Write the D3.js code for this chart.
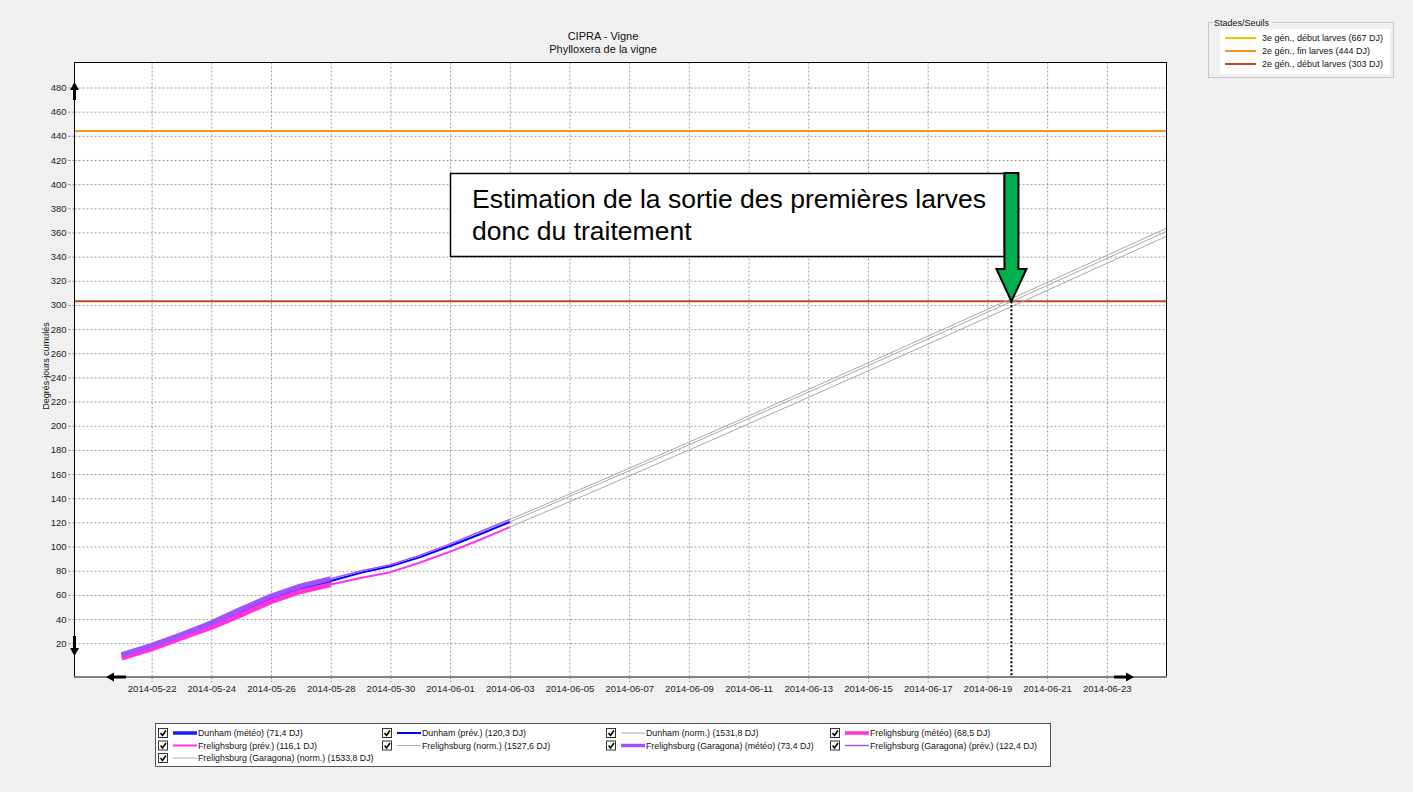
<!DOCTYPE html>
<html>
<head>
<meta charset="utf-8">
<script src="https://cdn.jsdelivr.net/npm/d3@7"></script>
<style>
  body { margin: 0; background: #f0f0f0; }
  svg { display: block; font-family: Arial, 'Liberation Sans', sans-serif; }
  .grid line { stroke: #9a9a9a; stroke-dasharray: 2,2; }
  .grid path { display: none; }
  .axis path { display: none; }
  .axis line { stroke: #808080; stroke-dasharray: 2,2; }
  .axis text { fill: #222; font-size: 9.5px; }
</style>
</head>
<body>
<svg id="chart" width="1413" height="792"></svg>
<script>
'use strict';

// ========== data

const meteoDates = ['2014-05-21', '2014-05-22', '2014-05-23', '2014-05-24', '2014-05-25', '2014-05-26', '2014-05-27', '2014-05-28'];
const dunhamMeteo = [9.8, 17.4, 26.2, 35.6, 46.8, 57.6, 65.6, 71.4];
const frelighMeteo = [7.6, 15.2, 24.4, 33.0, 43.4, 54.4, 62.8, 68.5];
const garagonaMeteo = [10.6, 18.2, 27.2, 36.8, 48.2, 59.0, 67.4, 73.4];

const prevDates = ['2014-05-28', '2014-05-29', '2014-05-30', '2014-05-31', '2014-06-01', '2014-06-02', '2014-06-03'];
const dunhamPrev = [71.4, 78.2, 83.6, 91.2, 100.4, 110.2, 120.3];
const frelighPrev = [68.5, 74.0, 78.8, 86.8, 95.8, 105.6, 116.1];
const garagonaPrev = [73.4, 79.8, 85.0, 92.8, 102.2, 112.2, 122.4];

const normDates = ['2014-06-03', '2014-06-04', '2014-06-05', '2014-06-06', '2014-06-07', '2014-06-08', '2014-06-09', '2014-06-10',
  '2014-06-11', '2014-06-12', '2014-06-13', '2014-06-14', '2014-06-15', '2014-06-16', '2014-06-17', '2014-06-18',
  '2014-06-19', '2014-06-20', '2014-06-21', '2014-06-22', '2014-06-23', '2014-06-24', '2014-06-25', '2014-06-26'];
const dunhamNorm = [120.3, 130.8, 141.4, 152.0, 162.7, 173.4, 184.2, 195.0, 205.9, 216.8, 227.7, 238.7,
  249.7, 260.7, 271.7, 282.8, 293.9, 305.0, 316.1, 327.3, 338.5, 349.7, 360.9, 372.2];
const frelighNorm = [116.1, 126.6, 137.1, 147.7, 158.4, 169.1, 179.9, 190.7, 201.6, 212.5, 223.4, 234.4,
  245.4, 256.4, 267.5, 278.6, 289.7, 300.8, 312.0, 323.2, 334.4, 345.6, 356.9, 368.2];
const garagonaNorm = [122.4, 132.9, 143.5, 154.1, 164.8, 175.6, 186.4, 197.2, 208.1, 219.0, 230.0, 241.0,
  252.0, 263.0, 274.1, 285.2, 296.3, 307.4, 318.6, 329.8, 341.0, 352.2, 363.5, 374.8];

const legendLabels = [
  'Dunham (météo) (71,4 DJ)', 'Dunham (prév.) (120,3 DJ)', 'Dunham (norm.) (1531,8 DJ)', 'Frelighsburg (météo) (68,5 DJ)',
  'Frelighsburg (prév.) (116,1 DJ)', 'Frelighsburg (norm.) (1527,6 DJ)', 'Frelighsburg (Garagona) (météo) (73,4 DJ)',
  'Frelighsburg (Garagona) (prév.) (122,4 DJ)', 'Frelighsburg (Garagona) (norm.) (1533,8 DJ)'
];

const thresholdLabels = ['3e gén., début larves (667 DJ)', '2e gén., fin larves (444 DJ)', '2e gén., début larves (303 DJ)'];
const thresholdValues = [667, 444, 303];

const xTickLabels = ['2014-05-22', '2014-05-24', '2014-05-26', '2014-05-28', '2014-05-30', '2014-06-01', '2014-06-03',
  '2014-06-05', '2014-06-07', '2014-06-09', '2014-06-11', '2014-06-13', '2014-06-15', '2014-06-17', '2014-06-19',
  '2014-06-21', '2014-06-23'];
const yTicks = [20, 40, 60, 80, 100, 120, 140, 160, 180, 200, 220, 240, 260, 280, 300, 320, 340, 360, 380, 400, 420, 440, 460, 480];

const estimateDate = '2014-06-19 19:20';
const estimateText = ['Estimation de la sortie des premières larves', 'donc du traitement'];

// ========== styles

const thresholdColors = ['#f2c200', '#f7941d', '#bd4a1c'];
const seriesStyle = [
  { color: '#1a1aff', width: 5 },   // Dunham météo
  { color: '#0000ff', width: 2 },   // Dunham prév
  { color: '#a8a8a8', width: 1 },   // Dunham norm
  { color: '#ff33dd', width: 5 },   // Frelighsburg météo
  { color: '#ff33ee', width: 2 },   // Frelighsburg prév
  { color: '#a8a8a8', width: 1 },   // Frelighsburg norm
  { color: '#a052ff', width: 5 },   // Garagona météo
  { color: '#a052ff', width: 1.5 }, // Garagona prév
  { color: '#a8a8a8', width: 1 }    // Garagona norm
];

// ========== chart

const parse = d3.timeParse('%Y-%m-%d');
const parseT = d3.timeParse('%Y-%m-%d %H:%M');

const series = [
  [meteoDates, dunhamMeteo], [prevDates, dunhamPrev], [normDates, dunhamNorm],
  [meteoDates, frelighMeteo], [prevDates, frelighPrev], [normDates, frelighNorm],
  [meteoDates, garagonaMeteo], [prevDates, garagonaPrev], [normDates, garagonaNorm]
].map(function(s) { return s[0].map(function(d, i) { return { date: parse(d), value: s[1][i] }; }); });

const plot = { left: 74.5, top: 62.5, right: 1166.5, bottom: 677 };

const x = d3.scaleTime()
  .domain([parseT('2014-05-19 10:00'), parseT('2014-06-25 00:00')])
  .range([plot.left, plot.right]);
const y = d3.scaleLinear()
  .domain([-8, 500.7])
  .range([plot.bottom, plot.top]);

const svg = d3.select('#chart');

// title
svg.append('text').attr('x', 603).attr('y', 40).attr('text-anchor', 'middle')
  .attr('font-size', 11).attr('fill', '#111').text('CIPRA - Vigne');
svg.append('text').attr('x', 603).attr('y', 53).attr('text-anchor', 'middle')
  .attr('font-size', 11).attr('fill', '#111').text('Phylloxera de la vigne');

// plot background
svg.append('rect')
  .attr('x', plot.left).attr('y', plot.top)
  .attr('width', plot.right - plot.left).attr('height', plot.bottom - plot.top)
  .attr('fill', '#fff');

svg.append('defs').append('clipPath').attr('id', 'clip')
  .append('rect')
  .attr('x', plot.left).attr('y', plot.top)
  .attr('width', plot.right - plot.left).attr('height', plot.bottom - plot.top);

// grid
svg.append('g').attr('class', 'grid')
  .attr('transform', 'translate(' + plot.left + ',0)')
  .call(d3.axisLeft(y).tickValues(yTicks).tickSize(-(plot.right - plot.left)).tickFormat(''));
svg.append('g').attr('class', 'grid')
  .attr('transform', 'translate(0,' + plot.top + ')')
  .call(d3.axisBottom(x).tickValues(xTickLabels.map(parse)).tickSize(plot.bottom - plot.top).tickFormat(''));

// axes
svg.append('g').attr('class', 'axis')
  .attr('transform', 'translate(' + plot.left + ',0)')
  .call(d3.axisLeft(y).tickValues(yTicks).tickSize(6).tickPadding(2));
svg.append('g').attr('class', 'axis')
  .attr('transform', 'translate(0,' + plot.bottom + ')')
  .call(d3.axisBottom(x).tickValues(xTickLabels.map(parse)).tickSize(5).tickPadding(3)
    .tickFormat(d3.timeFormat('%Y-%m-%d')));

svg.append('text')
  .attr('transform', 'translate(49,366) rotate(-90)')
  .attr('text-anchor', 'middle').attr('font-size', 9).attr('fill', '#111')
  .text('Degrés-jours cumulés');

// thresholds
const gPlot = svg.append('g').attr('clip-path', 'url(#clip)');
thresholdValues.forEach(function(v, i) {
  gPlot.append('line')
    .attr('x1', plot.left).attr('x2', plot.right)
    .attr('y1', y(v)).attr('y2', y(v))
    .attr('stroke', thresholdColors[i]).attr('stroke-width', 2);
});

// series
const line = d3.line()
  .x(function(d) { return x(d.date); })
  .y(function(d) { return y(d.value); });

series.forEach(function(s, i) {
  gPlot.append('path')
    .datum(s)
    .attr('d', line)
    .attr('fill', 'none')
    .attr('stroke', seriesStyle[i].color)
    .attr('stroke-width', seriesStyle[i].width)
    .attr('stroke-linejoin', 'round');
});

// frame
svg.append('rect')
  .attr('x', plot.left).attr('y', plot.top)
  .attr('width', plot.right - plot.left).attr('height', plot.bottom - plot.top)
  .attr('fill', 'none').attr('stroke', '#000').attr('stroke-width', 1);
svg.append('line')
  .attr('x1', plot.left).attr('x2', plot.right + 0.5)
  .attr('y1', plot.bottom).attr('y2', plot.bottom)
  .attr('stroke', '#808080').attr('stroke-width', 2);

// scroll arrows
const arrows = [
  'M74.5,82 L79,90 L76,90 L76,100 L73,100 L73,90 L70,90 Z',
  'M74.5,656 L79,648 L76,648 L76,636 L73,636 L73,648 L70,648 Z',
  'M106,677 L114,672.5 L114,675.5 L126,675.5 L126,678.5 L114,678.5 L114,681.5 Z',
  'M1134,677 L1126,672.5 L1126,675.5 L1114,675.5 L1114,678.5 L1126,678.5 L1126,681.5 Z'
];
arrows.forEach(function(a) { svg.append('path').attr('d', a).attr('fill', '#000'); });

// annotation
const ex = x(parseT(estimateDate));
const ey = y(thresholdValues[2]);
svg.append('line')
  .attr('x1', ex).attr('x2', ex).attr('y1', ey).attr('y2', plot.bottom - 1)
  .attr('stroke', '#000').attr('stroke-width', 2).attr('stroke-dasharray', '2,2');

svg.append('rect')
  .attr('x', 450.5).attr('y', 173.5).attr('width', 554).attr('height', 83)
  .attr('fill', '#fff').attr('stroke', '#000').attr('stroke-width', 1.5);
estimateText.forEach(function(t, i) {
  svg.append('text')
    .attr('x', 472).attr('y', 208 + i * 32)
    .attr('font-size', 26.5).attr('fill', '#000')
    .text(t);
});

svg.append('path')
  .attr('d', 'M' + (ex - 7) + ',173 L' + (ex + 7) + ',173 L' + (ex + 7) + ',269 L' + (ex + 15) + ',269 L' +
    ex + ',' + ey + ' L' + (ex - 15) + ',269 L' + (ex - 7) + ',269 Z')
  .attr('fill', '#00b050').attr('stroke', '#000').attr('stroke-width', 2).attr('stroke-linejoin', 'miter');

// threshold legend
const gl = svg.append('g');
gl.append('rect').attr('x', 1208.5).attr('y', 22.5).attr('width', 185).attr('height', 55)
  .attr('fill', 'none').attr('stroke', '#c8c8c8');
gl.append('rect').attr('x', 1213).attr('y', 16).attr('width', 59).attr('height', 12).attr('fill', '#f0f0f0');
gl.append('text').attr('x', 1214).attr('y', 26).attr('font-size', 9).attr('fill', '#111').text('Stades/Seuils');
gl.append('rect').attr('x', 1220).attr('y', 29).attr('width', 170).attr('height', 45).attr('fill', '#fff');
thresholdLabels.forEach(function(t, i) {
  const ly = 38 + i * 13;
  gl.append('line').attr('x1', 1225).attr('x2', 1256).attr('y1', ly).attr('y2', ly)
    .attr('stroke', thresholdColors[i]).attr('stroke-width', 2);
  gl.append('text').attr('x', 1262).attr('y', ly + 3).attr('font-size', 9).attr('fill', '#111').text(t);
});

// series legend
const gb = svg.append('g');
gb.append('rect').attr('x', 155.5).attr('y', 723.5).attr('width', 895).attr('height', 43)
  .attr('fill', '#fff').attr('stroke', '#555');
const colX = [158, 382, 606, 830];
legendLabels.forEach(function(t, i) {
  const cx = colX[i % 4];
  const cy = 733 + Math.floor(i / 4) * 12.5;
  gb.append('rect').attr('x', cx + 0.5).attr('y', cy - 4.5).attr('width', 9).attr('height', 9)
    .attr('fill', '#fff').attr('stroke', '#333');
  gb.append('path').attr('d', 'M' + (cx + 2.5) + ',' + (cy) + ' L' + (cx + 4.5) + ',' + (cy + 2.5) + ' L' + (cx + 8) + ',' + (cy - 2.5))
    .attr('fill', 'none').attr('stroke', '#000').attr('stroke-width', 1.6);
  gb.append('line').attr('x1', cx + 15).attr('x2', cx + 39).attr('y1', cy).attr('y2', cy)
    .attr('stroke', seriesStyle[i].color).attr('stroke-width', Math.min(seriesStyle[i].width, 3.5));
  gb.append('text').attr('x', cx + 40).attr('y', cy + 3).attr('font-size', 8.8).attr('fill', '#111').text(t);
});
</script>
</body>
</html>
